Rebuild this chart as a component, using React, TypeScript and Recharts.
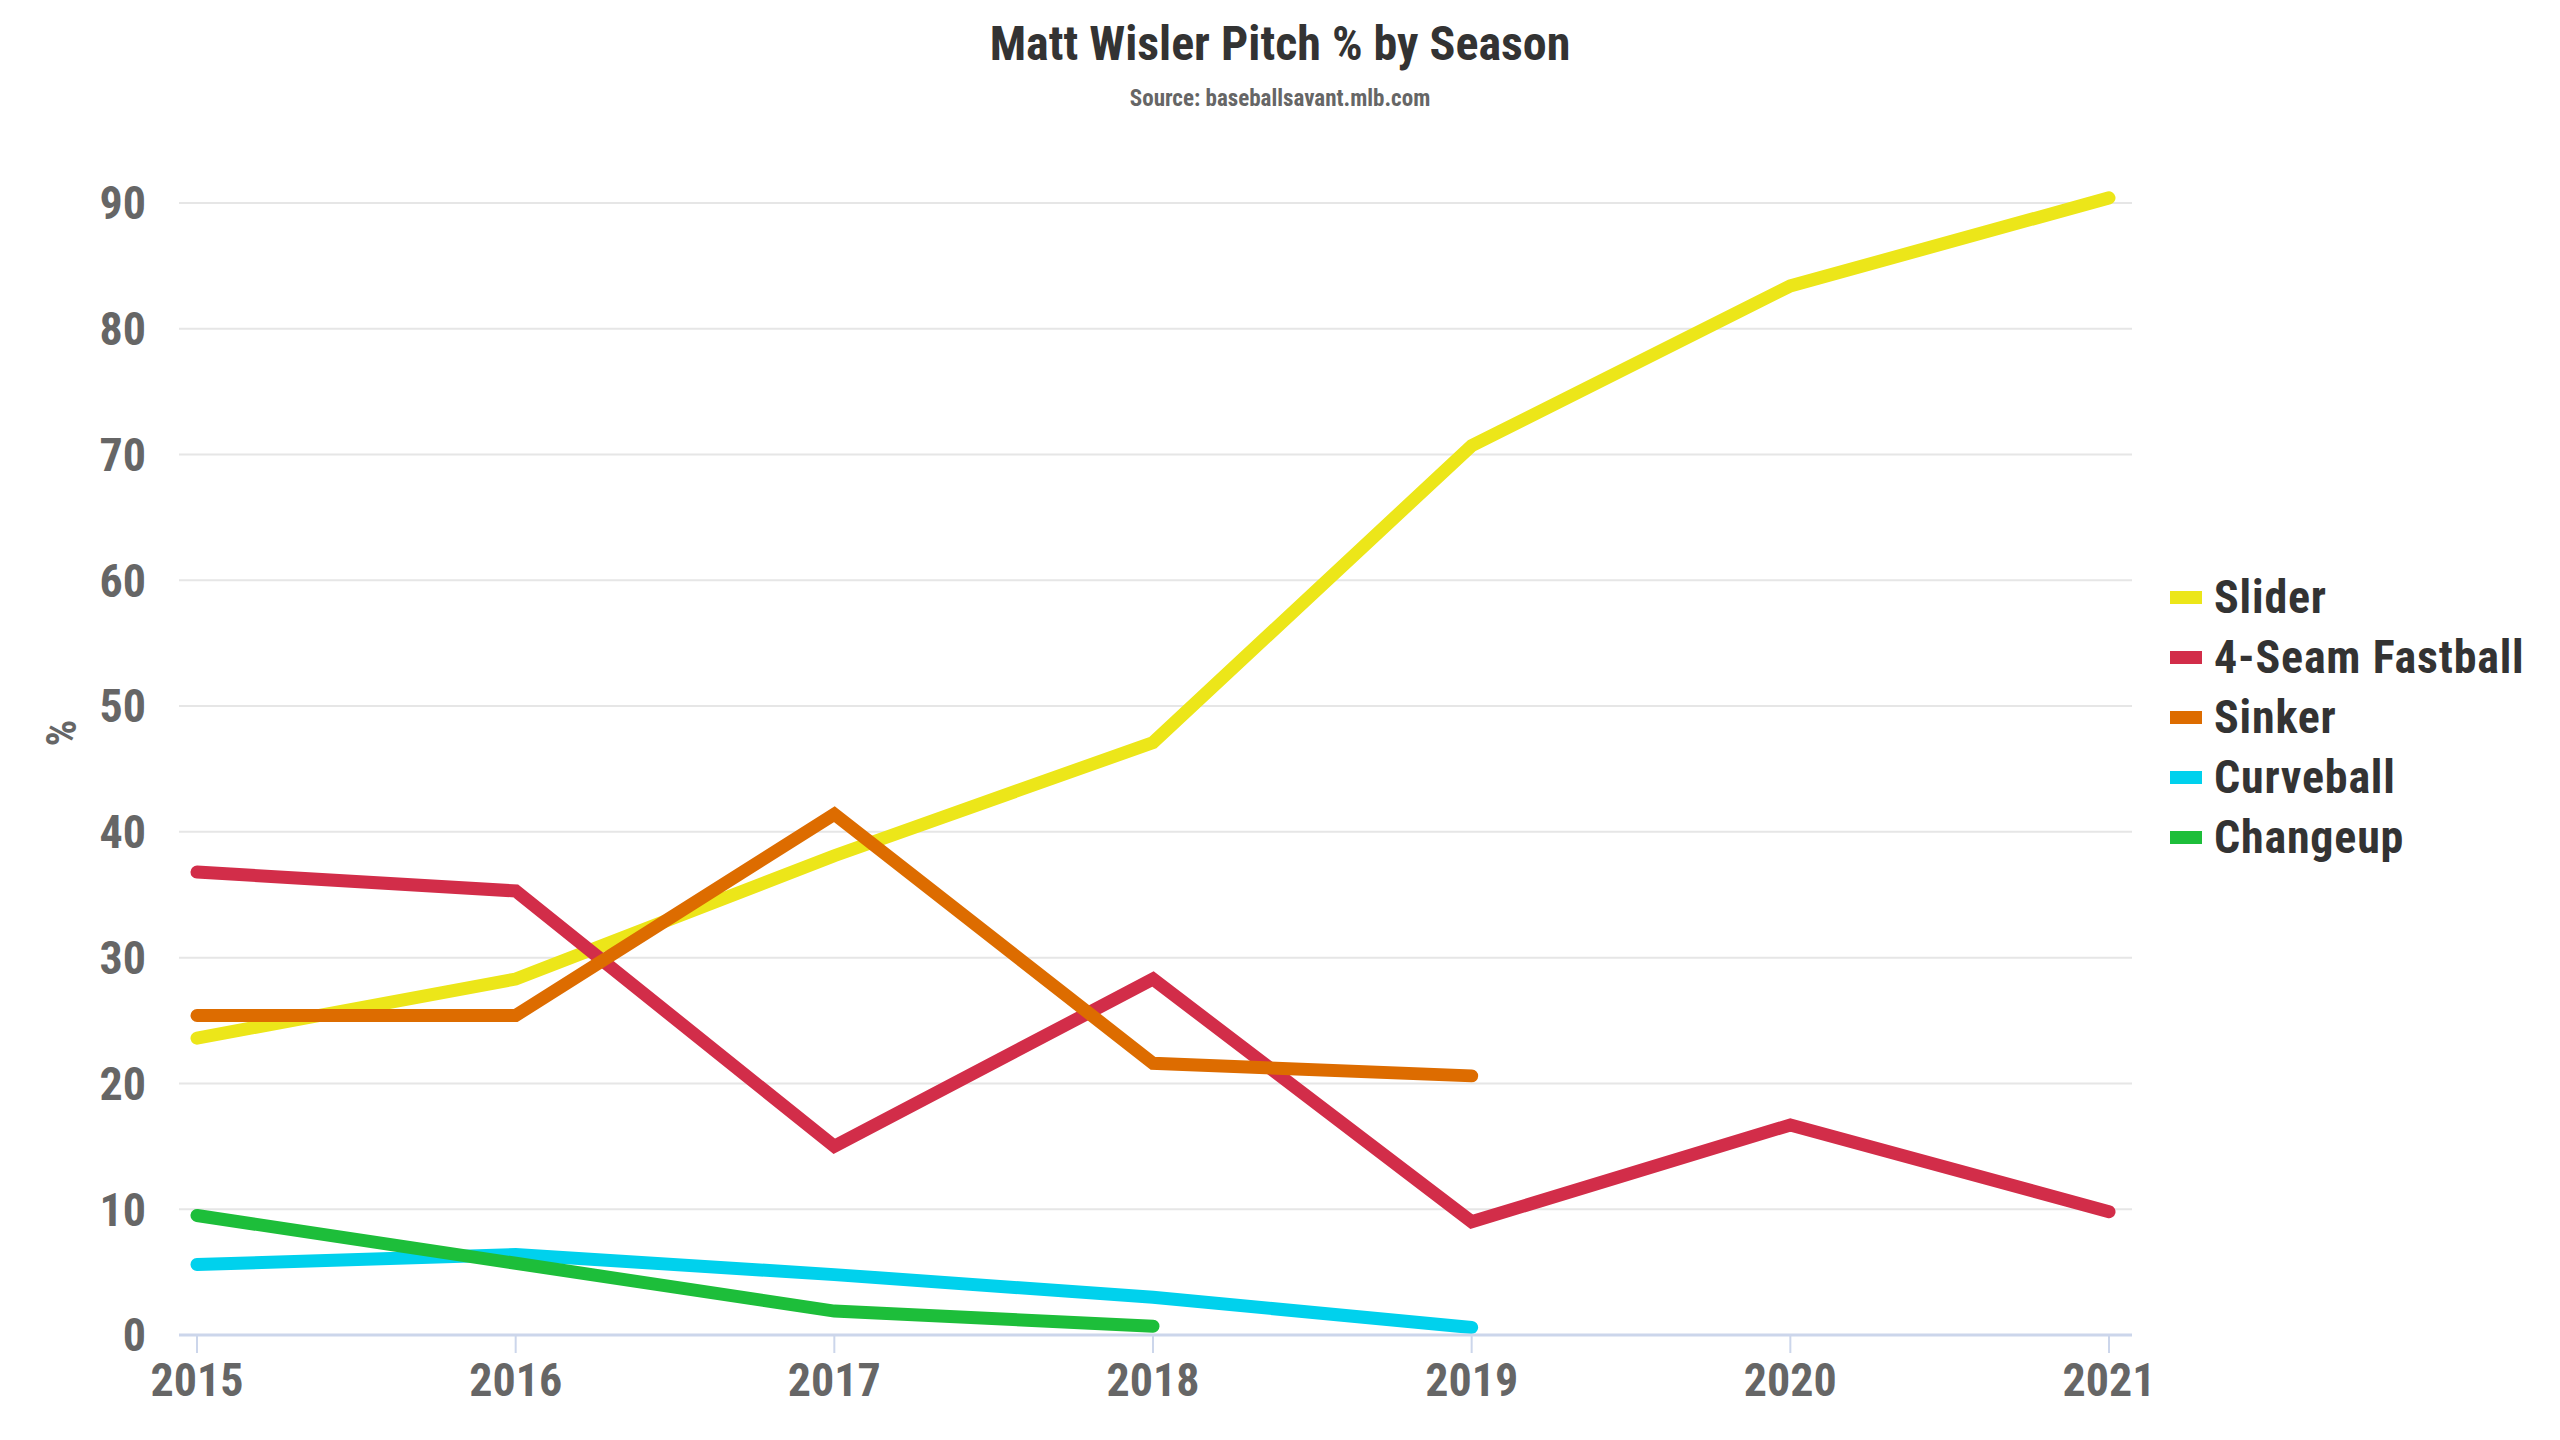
import { LineChart, Line, XAxis, YAxis, CartesianGrid } from 'recharts'

const years = [2015, 2016, 2017, 2018, 2019, 2020, 2021]
const slider = [23.6, 28.3, 38.1, 47.1, 70.7, 83.4, 90.4]
const fourSeam = [36.8, 35.3, 15.0, 28.3, 9.0, 16.7, 9.8]
const sinker = [25.4, 25.4, 41.4, 21.6, 20.6, null, null]
const curveball = [5.6, 6.4, 4.8, 3.0, 0.6, null, null]
const changeup = [9.5, 5.7, 1.9, 0.7, null, null, null]
const yTicks = [0, 10, 20, 30, 40, 50, 60, 70, 80, 90]

const series = [
  { key: 'slider', name: 'Slider', color: '#ECE619' },
  { key: 'fourSeam', name: '4-Seam Fastball', color: '#D22D49' },
  { key: 'sinker', name: 'Sinker', color: '#DD6C00' },
  { key: 'curveball', name: 'Curveball', color: '#00D1ED' },
  { key: 'changeup', name: 'Changeup', color: '#1DBE3A' },
]

const data = years.map((year, i) => ({
  year,
  slider: slider[i],
  fourSeam: fourSeam[i],
  sinker: sinker[i],
  curveball: curveball[i],
  changeup: changeup[i],
}))

const FONT = '"Roboto Condensed", "Liberation Sans Narrow", "Arial Narrow", "DejaVu Sans Condensed", sans-serif'

function LegendBox() {
  return (
    <div style={{ position: 'absolute', left: 2170, top: 567, fontFamily: FONT }}>
      {series.map((s) => (
        <div key={s.key} style={{ display: 'flex', alignItems: 'center', height: 60 }}>
          <span style={{ width: 32, height: 13, background: s.color, marginRight: 12 }} />
          <span
            style={{ fontSize: 46, fontWeight: 700, color: '#333333', lineHeight: '60px', letterSpacing: 0.8 }}
          >
            {s.name}
          </span>
        </div>
      ))}
    </div>
  )
}

export default function App() {
  const tick = { fill: '#666666', fontSize: 46, fontWeight: 700, fontFamily: FONT }
  return (
    <div style={{ position: 'relative', width: 2560, height: 1440, background: '#fff' }}>
      <style>{'body{margin:0}'}</style>
      <div
        style={{
          position: 'absolute', top: 14, left: 0, width: 2560, textAlign: 'center',
          fontFamily: FONT, fontWeight: 700, fontSize: 48, color: '#333333', lineHeight: '60px',
        }}
      >
        Matt Wisler Pitch % by Season
      </div>
      <div
        style={{
          position: 'absolute', top: 84, left: 0, width: 2560, textAlign: 'center',
          fontFamily: FONT, fontWeight: 700, fontSize: 23, color: '#666666', lineHeight: '30px',
        }}
      >
        Source: baseballsavant.mlb.com
      </div>
      <div
        style={{
          position: 'absolute', left: 62, top: 733, transform: 'translate(-50%, -50%) rotate(-90deg)',
          fontFamily: FONT, fontWeight: 700, fontSize: 42, color: '#666666', lineHeight: '42px',
        }}
      >
        %
      </div>
      <LegendBox />
      <LineChart width={2560} height={1440} data={data} margin={{ top: 140, right: 428, bottom: 15, left: 0 }}>
        <CartesianGrid vertical={false} horizontalValues={yTicks} stroke="#e6e6e6" strokeWidth={2} />
        <XAxis
          dataKey="year"
          type="number"
          domain={[2015, 2021]}
          ticks={years}
          padding={{ left: 18, right: 23 }}
          height={90}
          tick={tick}
          tickSize={18}
          tickMargin={10}
          axisLine={{ stroke: '#ccd6eb', strokeWidth: 3 }}
          tickLine={{ stroke: '#ccd6eb', strokeWidth: 2 }}
        />
        <YAxis
          domain={[0, 95]}
          ticks={yTicks}
          width={179}
          tick={tick}
          tickSize={0}
          tickMargin={33}
          axisLine={false}
          tickLine={false}
        />
        {series.map((s) => (
          <Line
            key={s.key}
            type="linear"
            dataKey={s.key}
            name={s.name}
            stroke={s.color}
            strokeWidth={13}
            strokeLinecap="round"
            strokeLinejoin="miter"
            dot={false}
            activeDot={false}
            isAnimationActive={false}
          />
        ))}
      </LineChart>
    </div>
  )
}
